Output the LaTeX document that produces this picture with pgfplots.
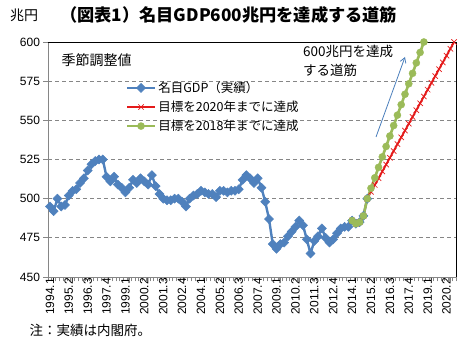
\documentclass[border=0pt]{standalone}
\usepackage{pgfplots}
\pgfplotsset{compat=1.18}
\usepackage{pgfplotstable}
\usepackage{fontspec}
\setmainfont{Noto Sans CJK JP}
\newfontfamily\tickfont{Liberation Sans}
\usetikzlibrary{arrows.meta}
\definecolor{gdpblue}{HTML}{4F81BD}
\definecolor{tgtred}{HTML}{E41A1A}
\definecolor{tgtgreen}{HTML}{9BBB59}
\definecolor{arrowblue}{HTML}{4A7EBB}
\definecolor{gridgray}{HTML}{868686}

\pgfplotstableread{
x y
0 495
1 492
2 500
3 495
4 496
5 502
6 505
7 506
8 510
9 513
10 518
11 522
12 524
13 525
14 525
15 514
16 511
17 514
18 509
19 507
20 504
21 507
22 512
23 510
24 513
25 511
26 509
27 515
28 508
29 503
30 500
31 499
32 499
33 500
34 500
35 498
36 495
37 500
38 502
39 503
40 505
41 504
42 503
43 503
44 501
45 505
46 505
47 504
48 505
49 505
50 506
51 512
52 515
53 513
54 510
55 513
56 507
57 498
58 487
59 471
60 468
61 471
62 472
63 476
64 479
65 482
66 486
67 483
68 474
69 465
70 473
71 476
72 481
73 475
74 472
75 474
76 478
77 481
78 482
79 482
80 486
81 484
82 485
83 489
84 500
}\gdp

\pgfplotstableread{
x y
80 486
81 484
82 485
83 489
84 500
85 504.35
86 508.70
87 513.04
88 517.39
89 521.74
90 526.09
91 530.43
92 534.78
93 539.13
94 543.48
95 547.83
96 552.17
97 556.52
98 560.87
99 565.22
100 569.57
101 573.91
102 578.26
103 582.61
104 586.96
105 591.30
106 595.65
107 600
}\redtgt

\pgfplotstableread{
x y
80 486
81 484
82 485
83 489
84 500
85 506.67
86 513.33
87 520
88 526.67
89 533.33
90 540
91 546.67
92 553.33
93 560
94 566.67
95 573.33
96 580
97 586.67
98 593.33
99 600
}\greentgt

\begin{document}
\begin{tikzpicture}
\useasboundingbox (-48pt,-76pt) rectangle (424pt,277pt);
\begin{axis}[
  at={(0pt,0pt)}, anchor=south west,
  scale only axis, width=408pt, height=235pt,
  xmin=-0.5, xmax=107.5, ymin=450, ymax=600,
  ytick={450,475,...,600},
  xtick={-0.5,0.5,...,107.5},
  xticklabels={},
  extra x ticks={0,5,...,105},
  extra x tick labels={1994.1,1995.2,1996.3,1997.4,1999.1,2000.2,2001.3,2002.4,2004.1,2005.2,2006.3,2007.4,2009.1,2010.2,2011.3,2012.4,2014.1,2015.2,2016.3,2017.4,2019.1,2020.2},
  extra x tick style={major tick length=0pt, grid=none},
  xticklabel style={rotate=90, anchor=east, font=\tickfont\fontsize{12}{12}\selectfont, inner sep=1pt},
  yticklabel style={font=\tickfont\fontsize{12}{12}\selectfont},
  /pgf/number format/assume math mode=true,
  tick align=outside, major tick length=4.5pt,
  xtick pos=bottom, ytick pos=left,
  tick style={gridgray, line width=0.7pt},
  axis line style={gridgray, line width=0.8pt},
  ymajorgrids,
  major grid style={gridgray, dash pattern=on 4pt off 3pt, line width=0.7pt},
  clip=false,
  legend style={at={(0.19,0.84)}, anchor=north west, draw=none, fill=none,
    font=\fontsize{12.5}{14}\selectfont, row sep=3pt, inner sep=0pt},
  legend cell align=left,
  legend image code/.code={\draw[mark repeat=2,mark phase=2] plot coordinates {(0pt,0pt) (14pt,0pt) (28pt,0pt)};},
]
\addplot[gdpblue, line width=2.4pt, mark=square*, mark size=3.2pt,
  mark options={rotate=45, solid, fill=gdpblue, draw=gdpblue, line width=0.5pt}] table[x=x,y=y] {\gdp};
\addlegendentry{名目GDP（実績）}
\addplot[tgtred, line width=1.8pt, mark=x, mark size=3.8pt,
  mark options={tgtred, line width=0.7pt}] table[x=x,y=y] {\redtgt};
\addlegendentry{目標を2020年までに達成}
\addplot[tgtgreen, line width=2.6pt, mark=*, mark size=3.6pt,
  mark options={fill=tgtgreen, draw=tgtgreen, line width=0.3pt}] table[x=x,y=y] {\greentgt};
\addlegendentry{目標を2018年までに達成}
\draw[black, line width=0.8pt] (rel axis cs:0,1) -- (rel axis cs:1,1) -- (rel axis cs:1,0);
\end{axis}
\node[anchor=west, inner sep=0pt, font=\fontsize{14}{14}\selectfont] at (-38pt,262pt) {兆円};
\node[anchor=west, inner sep=0pt, font=\fontsize{17.2}{17.2}\selectfont\bfseries] at (12pt,262pt) {（図表1）名目GDP600兆円を達成する道筋};
\node[anchor=west, font=\fontsize{14}{14}\selectfont] at (10pt,217pt) {季節調整値};
\node[anchor=north west, align=left, font=\fontsize{13.5}{19}\selectfont, inner sep=0pt] at (255pt,232pt) {600兆円を達成\\する道筋};
\draw[arrowblue, line width=0.8pt, -{Straight Barb[length=5pt,width=6pt]}] (328pt,140pt) -- (357pt,220pt);
\node[anchor=west, font=\fontsize{13.5}{13.5}\selectfont] at (-22pt,-53pt) {注：実績は内閣府。};
\end{tikzpicture}
\end{document}
